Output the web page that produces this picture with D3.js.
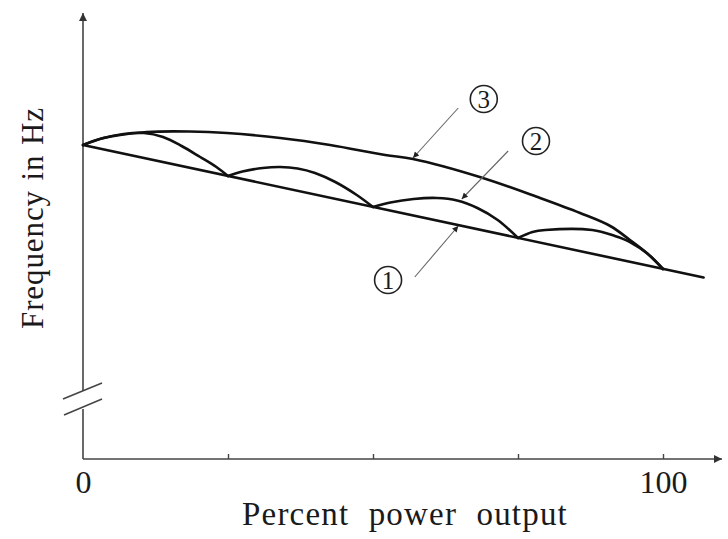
<!DOCTYPE html>
<html>
<head>
<meta charset="utf-8">
<script src="https://cdn.jsdelivr.net/npm/d3@7"></script>
<style>
  body { margin: 0; background: #fff; }
  text { font-family: "Liberation Serif", "DejaVu Serif", serif; fill: #1a1a1a; }
</style>
</head>
<body>
<svg id="chart" width="728" height="539"></svg>
<script>
// percent power output vs frequency (Hz) - arbitrary frequency scale, axis is broken
const droopLine = [[0, 50.0], [107, 48.675]];

const maxEnvelope = [
  [0, 50.0], [2.9, 50.06], [6.4, 50.1], [11, 50.13], [18.4, 50.135], [24.8, 50.12],
  [34, 50.07], [42.6, 50.0], [52.1, 49.9], [56.9, 49.86], [68.4, 49.68], [78.8, 49.47],
  [85.7, 49.32], [90.9, 49.19], [94.3, 49.05], [97.4, 48.91], [100, 48.76]
];

const valvePoints = [
  [[0, 50.0], [3.5, 50.07], [7, 50.11], [10.5, 50.12], [13.8, 50.08], [17, 49.99], [20.2, 49.88], [23, 49.78], [25, 49.69]],
  [[25, 49.69], [27.5, 49.735], [31, 49.77], [34, 49.78], [37, 49.765], [40, 49.72], [43.5, 49.63], [47.2, 49.5], [50, 49.38]],
  [[50, 49.38], [53, 49.425], [57, 49.46], [61, 49.47], [64.5, 49.445], [68, 49.37], [71.5, 49.25], [75, 49.07]],
  [[75, 49.07], [77.5, 49.13], [79.7, 49.15], [87.8, 49.15], [91.7, 49.09], [94.3, 49.03], [97.4, 48.91], [100, 48.76]]
];

const xTicks = [25, 50, 75, 100];
const xLabels = [0, 100];

// callouts: label, circle centre, arrow start, arrow tip
const callouts = [
  { label: '3', at: [69.1, 50.46], from: [64.7, 50.37], to: [56.9, 49.87] },
  { label: '2', at: [78.1, 50.04], from: [73.3, 49.94], to: [65.3, 49.46] },
  { label: '1', at: [52.6, 48.65], from: [57.2, 48.68], to: [64.7, 49.19] }
];

const svg = d3.select('#chart');
const x = d3.scaleLinear().domain([0, 100]).range([83, 663]);
const y = d3.scaleLinear().domain([46.86, 51.3]).range([459, 15]);

const defs = svg.append('defs');
defs.append('marker')
  .attr('id', 'axisArrow')
  .attr('viewBox', '0 0 10 10')
  .attr('refX', 10).attr('refY', 5)
  .attr('markerWidth', 12).attr('markerHeight', 8)
  .attr('markerUnits', 'userSpaceOnUse')
  .attr('orient', 'auto')
  .append('path').attr('d', 'M0,0 L10,5 L0,10 Z').attr('fill', '#333');
defs.append('marker')
  .attr('id', 'smallArrow')
  .attr('viewBox', '0 0 10 10')
  .attr('refX', 10).attr('refY', 5)
  .attr('markerWidth', 9).attr('markerHeight', 6)
  .attr('markerUnits', 'userSpaceOnUse')
  .attr('orient', 'auto')
  .append('path').attr('d', 'M0,0 L10,5 L0,10 Z').attr('fill', '#222');

// axes
const axisG = svg.append('g').attr('stroke', '#444').attr('stroke-width', 1.6).attr('fill', 'none');
axisG.append('line')
  .attr('x1', x(0)).attr('y1', y.range()[0]).attr('x2', 722).attr('y2', y.range()[0])
  .attr('marker-end', 'url(#axisArrow)');
axisG.append('line')
  .attr('x1', x(0)).attr('y1', 459).attr('x2', x(0)).attr('y2', 409);
axisG.append('line')
  .attr('x1', x(0)).attr('y1', 391).attr('x2', x(0)).attr('y2', 13)
  .attr('marker-end', 'url(#axisArrow)');
// break marks
axisG.append('line').attr('x1', 63).attr('y1', 399).attr('x2', 102).attr('y2', 383);
axisG.append('line').attr('x1', 64).attr('y1', 415).attr('x2', 102).attr('y2', 399);

const tickAxis = d3.axisTop(x).tickValues(xTicks).tickSize(5).tickFormat('');
svg.append('g')
  .attr('transform', `translate(0,${y.range()[0]})`)
  .call(tickAxis)
  .call((g) => g.select('.domain').remove())
  .call((g) => g.selectAll('line').attr('stroke', '#444').attr('stroke-width', 1.4));

const labelAxis = d3.axisBottom(x).tickValues(xLabels).tickSize(0).tickPadding(11).tickFormat(d3.format('d'));
svg.append('g')
  .attr('transform', `translate(0,${y.range()[0]})`)
  .call(labelAxis)
  .call((g) => g.select('.domain').remove())
  .call((g) => g.selectAll('text')
    .style('font-size', '32px')
    .style('font-family', '"Liberation Serif", serif')
    .attr('fill', '#1a1a1a'));

// curves
const line = d3.line().x((d) => x(d[0])).y((d) => y(d[1]));
const smooth = d3.line().x((d) => x(d[0])).y((d) => y(d[1])).curve(d3.curveCatmullRom.alpha(0.5));

const curves = svg.append('g').attr('fill', 'none').attr('stroke', '#111')
  .attr('stroke-width', 2.6).attr('stroke-linejoin', 'round').attr('stroke-linecap', 'round');

curves.append('path').attr('d', line(droopLine));
curves.append('path').attr('d', smooth(maxEnvelope));
curves.selectAll('path.valve')
  .data(valvePoints)
  .enter()
  .append('path')
  .attr('class', 'valve')
  .attr('d', smooth);

// callouts
const callG = svg.append('g');
callG.selectAll('line')
  .data(callouts)
  .enter()
  .append('line')
  .attr('x1', (d) => x(d.from[0])).attr('y1', (d) => y(d.from[1]))
  .attr('x2', (d) => x(d.to[0])).attr('y2', (d) => y(d.to[1]))
  .attr('stroke', '#666').attr('stroke-width', 1.1)
  .attr('marker-end', 'url(#smallArrow)');
callG.selectAll('circle')
  .data(callouts)
  .enter()
  .append('circle')
  .attr('cx', (d) => x(d.at[0])).attr('cy', (d) => y(d.at[1]))
  .attr('r', 13.5)
  .attr('fill', 'none').attr('stroke', '#222').attr('stroke-width', 1.6);
callG.selectAll('text')
  .data(callouts)
  .enter()
  .append('text')
  .text((d) => d.label)
  .attr('x', (d) => x(d.at[0])).attr('y', (d) => y(d.at[1]) + 8.5)
  .attr('text-anchor', 'middle')
  .style('font-size', '25px');

// axis titles, word gaps stretched to the width in the original
const fitWords = (sel, width) => {
  const natural = sel.node().getComputedTextLength();
  const gaps = sel.text().split(' ').length - 1;
  sel.style('word-spacing', `${Math.max(0, (width - natural) / gaps)}px`);
};

const xTitle = svg.append('text')
  .text('Percent power output')
  .attr('x', 405).attr('y', 525)
  .attr('text-anchor', 'middle')
  .style('font-size', '33px')
  .style('letter-spacing', '1.2px');
fitWords(xTitle, 326);

const yTitle = svg.append('text')
  .text('Frequency in Hz')
  .attr('transform', 'translate(43,218) rotate(-90)')
  .attr('text-anchor', 'middle')
  .style('font-size', '31px')
  .style('letter-spacing', '0.9px');
fitWords(yTitle, 222);
</script>
</body>
</html>
